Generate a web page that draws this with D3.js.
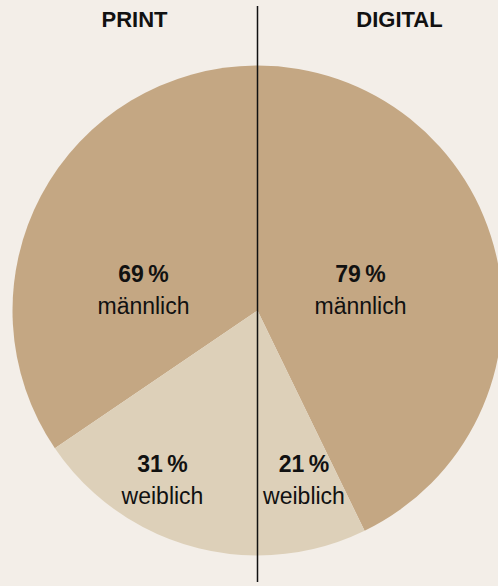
<!DOCTYPE html>
<html>
<head>
<meta charset="utf-8">
<script src="https://cdn.jsdelivr.net/npm/d3@7"></script>
<style>
  html, body { margin: 0; padding: 0; background: #f3eee8; }
  svg { display: block; }
  text { font-family: "Liberation Sans", Arial, sans-serif; fill: #111; }
</style>
</head>
<body>
<div id="chart"></div>
<script>
// ---- data ----
const panels = ["PRINT", "DIGITAL"];
const categories = ["männlich", "weiblich"];
const printValues = [69, 31];
const digitalValues = [79, 21];
// slice sizes as drawn in the reference (share of each half)
const printArcShare = [69, 31];
const digitalArcShare = [85.6, 14.4];

// ---- layout ----
const W = 498, H = 586;
const cx = 257.5, cy = 310.5, R = 245;
const colors = { "männlich": "#c4a783", "weiblich": "#ddd0b9" };

const svg = d3.select("#chart").append("svg")
  .attr("width", W).attr("height", H);

svg.append("rect").attr("width", W).attr("height", H).attr("fill", "#f3eee8");

const g = svg.append("g").attr("transform", `translate(${cx},${cy})`);
const arc = d3.arc().innerRadius(0).outerRadius(R);

// PRINT: left half, from top going counter-clockwise
const pieLeft = d3.pie().sort(null).startAngle(0).endAngle(-Math.PI).value(d => d.share);
const leftData = categories.map((c, i) => ({ cat: c, share: printArcShare[i], value: printValues[i] }));
g.selectAll("path.left").data(pieLeft(leftData)).join("path")
  .attr("class", "left")
  .attr("d", arc)
  .attr("fill", d => colors[d.data.cat]);

// DIGITAL: right half, from top going clockwise
const pieRight = d3.pie().sort(null).startAngle(0).endAngle(Math.PI).value(d => d.share);
const rightData = categories.map((c, i) => ({ cat: c, share: digitalArcShare[i], value: digitalValues[i] }));
g.selectAll("path.right").data(pieRight(rightData)).join("path")
  .attr("class", "right")
  .attr("d", arc)
  .attr("fill", d => colors[d.data.cat]);

// divider line
svg.append("line")
  .attr("x1", cx).attr("x2", cx)
  .attr("y1", 6).attr("y2", 582)
  .attr("stroke", "#111").attr("stroke-width", 1.5);

// panel titles
const titleX = [134.5, 399.5];
svg.selectAll("text.title").data(panels).join("text")
  .attr("class", "title")
  .attr("x", (d, i) => titleX[i]).attr("y", 27)
  .attr("text-anchor", "middle")
  .attr("font-size", 22).attr("font-weight", "bold")
  .text(d => d);

// labels
const labelPos = [
  { x: 143.5, y: 282 }, // print männlich
  { x: 162.5, y: 472 }, // print weiblich
  { x: 360.5, y: 282 }, // digital männlich
  { x: 304, y: 472 }    // digital weiblich
];
const labels = [...leftData, ...rightData];
labels.forEach((d, i) => {
  const p = labelPos[i];
  svg.append("text")
    .attr("x", p.x).attr("y", p.y)
    .attr("text-anchor", "middle")
    .attr("font-size", 23)
    .attr("font-weight", "bold")
    .text(d.value + "\u2009%");
  svg.append("text")
    .attr("x", p.x).attr("y", p.y + 32)
    .attr("text-anchor", "middle")
    .attr("font-size", 23)
    .text(d.cat);
});
</script>
</body>
</html>
